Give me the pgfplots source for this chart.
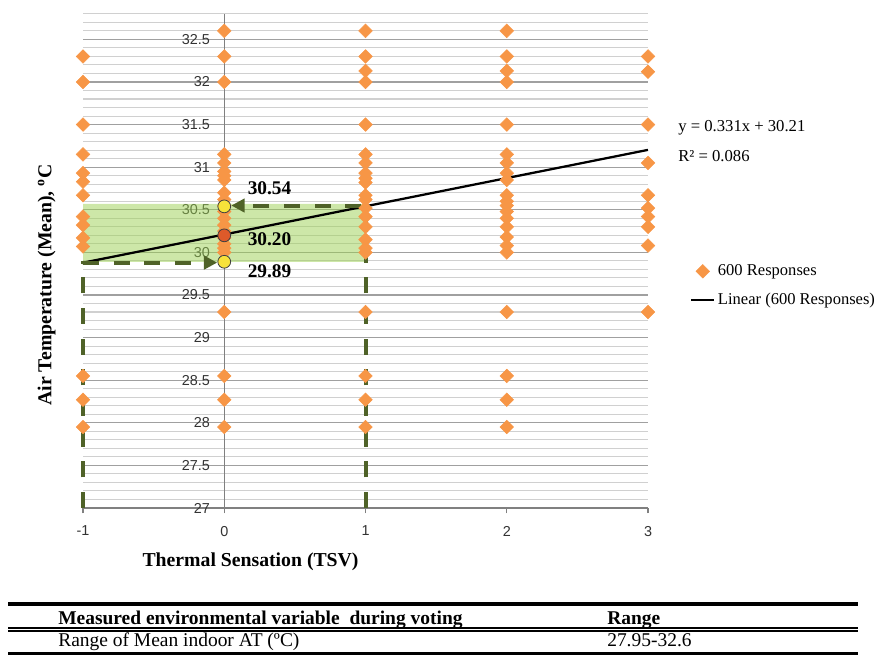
\documentclass[border=0pt]{standalone}
\usepackage{fontspec}
\setmainfont{Liberation Serif}
\newfontfamily\arial{Liberation Sans}
\usepackage{pgfplots}
\pgfplotsset{compat=1.18}
\usetikzlibrary{arrows.meta}
\definecolor{dorange}{HTML}{F79646}
\definecolor{dolive}{HTML}{4F6228}
\definecolor{boxgreen}{HTML}{9BD052}
\definecolor{gridmaj}{HTML}{A0A0A0}
\definecolor{gridmin}{HTML}{D0D0D0}
\definecolor{cyellow}{HTML}{F7E23A}
\definecolor{cred}{HTML}{DE5A2A}

\pgfplotstableread{
x y
-1 32.3
-1 32.0
-1 31.5
-1 31.15
-1 30.93
-1 30.83
-1 30.67
-1 30.42
-1 30.32
-1 30.17
-1 30.07
-1 28.55
-1 28.27
-1 27.95
0 32.6
0 32.3
0 32.0
0 31.15
0 31.05
0 30.95
0 30.9
0 30.85
0 30.7
0 30.62
0 30.55
0 30.48
0 30.4
0 30.32
0 30.25
0 30.17
0 30.1
0 30.05
0 30.0
0 29.3
0 28.55
0 28.27
0 27.95
1 32.6
1 32.3
1 32.13
1 32.0
1 31.5
1 31.15
1 31.05
1 30.93
1 30.87
1 30.82
1 30.67
1 30.62
1 30.52
1 30.42
1 30.3
1 30.15
1 30.05
1 30.0
1 29.3
1 28.55
1 28.27
1 27.95
2 32.6
2 32.3
2 32.13
2 32.0
2 31.5
2 31.15
2 31.05
2 30.93
2 30.85
2 30.67
2 30.6
2 30.55
2 30.48
2 30.4
2 30.3
2 30.18
2 30.08
2 30.0
2 29.3
2 28.55
2 28.27
2 27.95
3 32.3
3 32.12
3 31.5
3 31.05
3 30.67
3 30.52
3 30.42
3 30.3
3 30.08
3 29.3
}\responses

\begin{document}
\begin{tikzpicture}
\useasboundingbox (0,0) rectangle (657.75pt,491.25pt);
\begin{axis}[
  at={(62.25pt,110.25pt)}, anchor=south west,
  x=105.94pt, y=63.9pt,
  xmin=-1, xmax=3, ymin=27, ymax=32.8,
  axis x line=bottom, axis y line=center,
  axis line style={draw=gray, -, line width=0.8pt},
  hide obscured x ticks=false, hide obscured y ticks=false,
  xtick={-1,0,1,2,3},
  ytick={27,27.5,28,28.5,29,29.5,30,30.5,31,31.5,32,32.5},
  minor ytick={27,27.1,...,32.85},
  ymajorgrids, yminorgrids,
  major grid style={draw=gridmaj, line width=0.8pt},
  minor grid style={draw=gridmin, line width=0.8pt},
  ytick style={draw=none},
  minor tick length=0pt,
  xtick style={draw=gray, line width=0.8pt},
  tick align=outside, major tick length=4pt,
  /pgf/number format/assume math mode=true,
  ticklabel style={font=\arial\fontsize{10.8}{12}\selectfont, text=black!80},
  yticklabel style={xshift=-3.3pt},
  xticklabel style={yshift=-6pt},
  clip=false,
  legend style={at={(1.0743,0.498)}, anchor=north west, draw=none, fill=none,
    font=\fontsize{12.4}{14}\selectfont, row sep=7.5pt, inner sep=0pt},
  legend cell align=left,
]
\addplot[fill=boxgreen, fill opacity=0.5, draw=none, forget plot]
  coordinates {(-1,29.89) (1,29.89) (1,30.57) (-1,30.57) (-1,29.89)};
\addplot[only marks, mark=square*, mark size=3.6pt,
  mark options={rotate=45, fill=dorange, draw=dorange}] table[x=x,y=y] {\responses};
\addlegendentry{600 Responses}
\addplot[black, line width=1.7pt] coordinates {(-1,29.879) (3,31.203)};
\addlegendentry{Linear (600 Responses)}
\addplot[dolive, line width=3pt, dash pattern=on 12pt off 11pt,
  -{Triangle[length=10pt,width=10pt]}, forget plot]
  coordinates {(1,27) (1,30.55) (0.05,30.55)};
\addplot[dolive, line width=3pt, dash pattern=on 12pt off 11pt,
  -{Triangle[length=10pt,width=10pt]}, forget plot]
  coordinates {(-1,27) (-1,29.88) (-0.05,29.88)};
\addplot[only marks, mark=*, mark size=4.8pt,
  mark options={fill=cyellow, draw=black!75, line width=0.6pt}, forget plot]
  coordinates {(0,30.54) (0,29.89)};
\addplot[only marks, mark=*, mark size=4.8pt,
  mark options={fill=cred, draw=black!75, line width=0.6pt}, forget plot]
  coordinates {(0,30.20)};
\node[font=\bfseries\fontsize{14.5}{16}\selectfont, anchor=west, inner sep=0pt] at (axis cs:0.165,30.758) {30.54};
\node[font=\bfseries\fontsize{14.5}{16}\selectfont, anchor=west, inner sep=0pt] at (axis cs:0.165,30.157) {30.20};
\node[font=\bfseries\fontsize{14.5}{16}\selectfont, anchor=west, inner sep=0pt] at (axis cs:0.165,29.78) {29.89};
\end{axis}
% equation
\node[anchor=west, inner sep=0pt, font=\fontsize{12.5}{14}\selectfont] at (508.5pt,395.25pt) {y = 0.331x + 30.21};
\node[anchor=west, inner sep=0pt, font=\fontsize{12.5}{14}\selectfont] at (508.5pt,374.25pt) {R² = 0.086};
% axis titles
\node[rotate=90, font=\bfseries\fontsize{14.8}{17}\selectfont] at (35pt,277.5pt) {Air Temperature (Mean), \textsuperscript{o}C};
\node[font=\bfseries\fontsize{14.8}{17}\selectfont] at (187.9pt,69.75pt) {Thermal Sensation (TSV)};
% table
\draw[line width=3pt] (6pt,37.9pt) -- (643.5pt,37.9pt);
\draw[line width=1.2pt] (6pt,20.4pt) -- (643.5pt,20.4pt);
\draw[line width=1.5pt] (6pt,18pt) -- (643.5pt,18pt);
\draw[line width=2.2pt] (6pt,1.2pt) -- (643.5pt,1.2pt);
\node[anchor=base west, inner sep=0pt, font=\bfseries\fontsize{14.6}{16}\selectfont] at (43.5pt,22.6pt) {Measured environmental variable\ \ during voting};
\node[anchor=base west, inner sep=0pt, font=\bfseries\fontsize{14.6}{16}\selectfont] at (455.25pt,22.6pt) {Range};
\node[anchor=base west, inner sep=0pt, font=\fontsize{14.6}{16}\selectfont] at (43.5pt,6.6pt) {Range of Mean indoor AT (ºC)};
\node[anchor=base west, inner sep=0pt, font=\fontsize{14.6}{16}\selectfont] at (455.25pt,6.6pt) {27.95-32.6};
\end{tikzpicture}
\end{document}
